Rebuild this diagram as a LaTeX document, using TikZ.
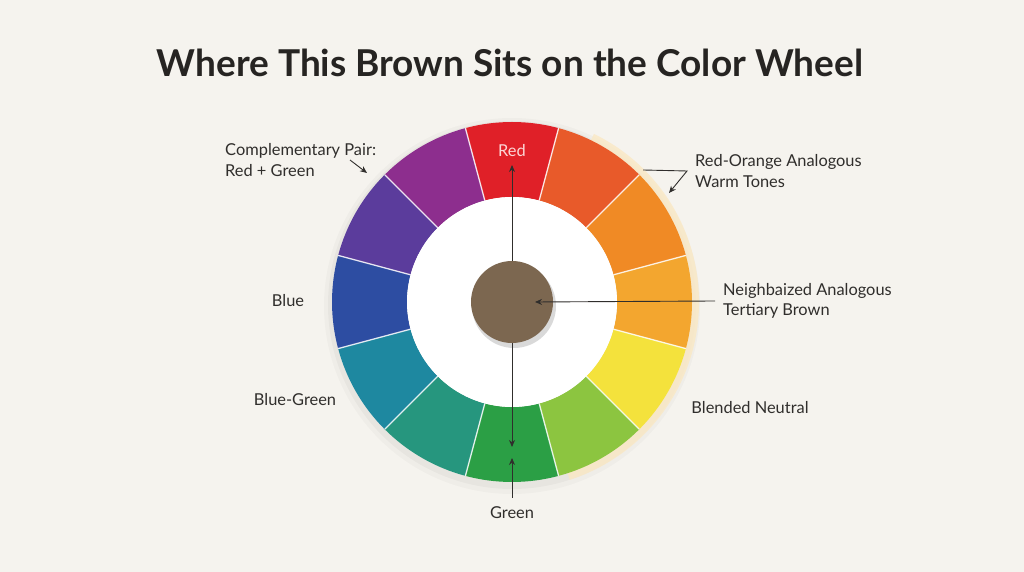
\documentclass[tikz,border=0pt]{standalone}
\usepackage{fontspec}
\setmainfont{Lato}
\usetikzlibrary{arrows.meta}

\definecolor{paper}{RGB}{245,243,238}
\definecolor{inkgray}{RGB}{48,46,44}
\definecolor{titlegray}{RGB}{38,36,34}
\definecolor{tbrown}{RGB}{124,103,80}
\definecolor{redtext}{RGB}{252,214,214}
\definecolor{glow}{RGB}{250,232,196}
\definecolor{wRed}{RGB}{224,32,40}
\definecolor{wRedOrange}{RGB}{232,90,42}
\definecolor{wOrange}{RGB}{240,138,37}
\definecolor{wYellowOrange}{RGB}{243,166,47}
\definecolor{wYellow}{RGB}{244,226,60}
\definecolor{wYellowGreen}{RGB}{140,197,64}
\definecolor{wGreen}{RGB}{43,159,69}
\definecolor{wTealGreen}{RGB}{38,150,126}
\definecolor{wTeal}{RGB}{30,136,160}
\definecolor{wBlue}{RGB}{45,77,162}
\definecolor{wIndigo}{RGB}{91,60,156}
\definecolor{wPurple}{RGB}{141,46,142}

\tikzset{
  lbl/.style={font=\fontsize{16.4}{20.5}\selectfont, text=inkgray, inner sep=0pt, align=left},
  pointer/.style={draw=inkgray, line width=0.9pt, -{Stealth[length=7pt,width=6pt]}},
  sep/.style={draw=white, line width=1.3pt, opacity=.85}
}

\begin{document}
\begin{tikzpicture}[x=1pt,y=1pt]
\fill[paper] (0,0) rectangle (1024,572);
\useasboundingbox (0,0) rectangle (1024,572);

% title
\node[font=\fontsize{37}{44}\selectfont\bfseries, text=titlegray] (title) at (510,509)
  {Where This Brown Sits on the Color Wheel};

% the wheel
\begin{scope}[shift={(512,270)}]
  \fill[black, opacity=.025] (0,-4) circle[radius=188pt];
  \fill[black, opacity=.03] (0,-3) circle[radius=184pt];
  \draw[glow, line width=8pt, opacity=.8] (64:183pt) arc[start angle=64, end angle=-72, radius=183pt];
  \foreach \m/\c in {90/wRed, 60/wRedOrange, 30/wOrange, 0/wYellowOrange,
                     -30/wYellow, -60/wYellowGreen, -90/wGreen, -120/wTealGreen,
                     -150/wTeal, -180/wBlue, -210/wIndigo, -240/wPurple}
    \fill[\c] (\m-15:180pt) arc[start angle=\m-15, end angle=\m+15, radius=180pt]
      -- (\m+15:105pt) arc[start angle=\m+15, end angle=\m-15, radius=105pt] -- cycle;
  \foreach \m in {15,45,...,345}
    \draw[sep] (\m:105pt) -- (\m:180pt);
  \fill[white] (0,0) circle[radius=105pt];
\end{scope}

% tertiary brown
\fill[black, opacity=.15] (514,266) circle[radius=42pt];
\node[circle, fill=tbrown, minimum size=82pt, inner sep=0pt] (brown) at (512,270) {};

% labels
\node[lbl, text=redtext] (red) at (512,421) {Red};
\node[lbl, anchor=west] (comp) at (225,412) {Complementary Pair:\\Red + Green};
\node[lbl, anchor=west] (warm) at (695,401) {Red-Orange Analogous\\Warm Tones};
\node[lbl, anchor=west] (neigh) at (723,271) {Neighbaized Analogous\\Tertiary Brown};
\node[lbl] (blue) at (288,271) {Blue};
\node[lbl] (bluegreen) at (295,172) {Blue-Green};
\node[lbl] (blended) at (750,164) {Blended Neutral};
\node[lbl] (green) at (512,59) {Green};

% connectors
\coordinate (redtip) at (512,407);
\coordinate (gdown) at (512,125);
\coordinate (gup) at (512,114);
\coordinate (browntip) at (535,270);
\coordinate (warmA) at (643,402);
\coordinate (warmtip) at (669,379);
\coordinate (cp1) at (350,412);
\coordinate (cp2) at (367,399);
\draw[pointer] (brown.north) -- (redtip);
\draw[pointer] (brown.south) -- (gdown);
\draw[pointer] ([yshift=9pt]green.north) -- (gup);
\draw[pointer] ([xshift=-8pt]neigh.west) -- (browntip);
\draw[pointer] (warmA) -- ([xshift=-8pt]warm.west) -- (warmtip);
\draw[pointer] (cp1) -- (cp2);
\end{tikzpicture}
\end{document}
